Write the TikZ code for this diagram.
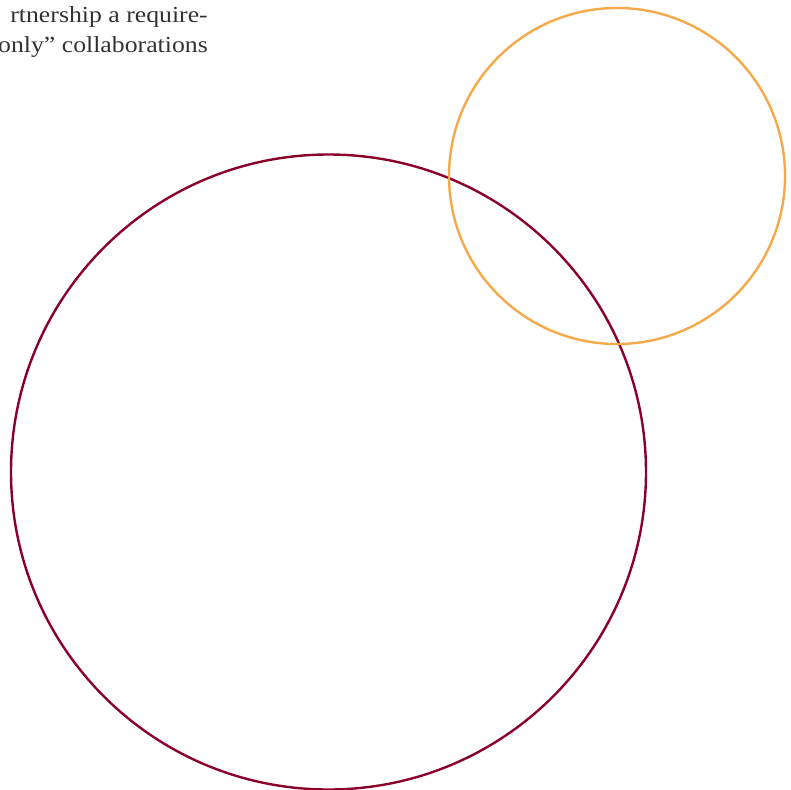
\documentclass[tikz,border=0pt]{standalone}
\usepackage{fontspec}
\setmainfont{Liberation Serif}
\definecolor{crimson}{RGB}{139,0,40}
\definecolor{amber}{RGB}{245,169,74}
\begin{document}
\begin{tikzpicture}[x=1pt,y=-1pt,
  ring/.style={line width=2.4pt},
  txt/.style={anchor=base east,inner sep=0pt,text=black!80,font=\fontsize{23}{30}\selectfont,xscale=1.12}]
\useasboundingbox (0,0) rectangle (791,789);
\clip (0,0) rectangle (791,789);
\node[txt] (l1) at (208,23) {rtnership a require-};
\node[txt] (l2) at (208,53) {only” collaborations};
\draw[ring,crimson] (328.5,472) circle[radius=317.5];
\draw[ring,amber] (617,176) circle[radius=168];
\end{tikzpicture}
\end{document}
